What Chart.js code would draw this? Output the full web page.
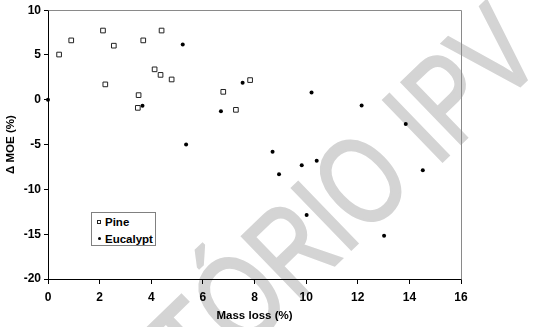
<!DOCTYPE html>
<html>
<head>
<meta charset="utf-8">
<script src="https://cdn.jsdelivr.net/npm/chart.js@4.4.1/dist/chart.umd.min.js"></script>
<style>
  html, body { margin: 0; padding: 0; background: #fff; }
  #wrap { position: relative; width: 536px; height: 327px; overflow: hidden; }
  #wm { position: absolute; left: 547px; top: 62px; width: 0; height: 0; z-index: 0;
        transform: rotate(-44deg) scaleY(1.3); transform-origin: 0 0; }
  #wm span { position: absolute; right: 0; bottom: -14px; white-space: nowrap;
        font-family: "Liberation Sans", Arial, sans-serif; font-size: 95px; line-height: 95px;
        color: #d4d4d4; -webkit-text-stroke: 2px #d4d4d4; }
  #c { position: absolute; left: 0; top: 0; z-index: 1; }
  #legend { position: absolute; left: 91px; top: 212px; width: 63px; height: 32px; z-index: 2;
        border: 1px solid #808080; background: #fff;
        font-family: "Liberation Sans", Arial, sans-serif; font-weight: bold; font-size: 11.5px; color: #000; }
  .row { position: absolute; left: 0; height: 14px; line-height: 14px; }
  .row .t { position: absolute; left: 13px; top: 0; white-space: nowrap; }
  .sq { position: absolute; left: 5px; top: 5px; width: 2px; height: 2px; border: 1px solid #222; background: #fff; }
  .dt { position: absolute; left: 6px; top: 5px; width: 3px; height: 3px; border-radius: 50%; background: #000; }
</style>
</head>
<body>
<div id="wrap">
  <div id="wm"><span id="wmtext"></span></div>
  <canvas id="c" width="536" height="327"></canvas>
  <div id="legend">
    <div class="row" style="top:2px"><div class="sq"></div><span class="t" id="lg0"></span></div>
    <div class="row" style="top:19px"><div class="dt"></div><span class="t" id="lg1"></span></div>
  </div>
</div>
<script>
// ---- data ----
const seriesNames = ["Pine", "Eucalypt"];
const pineX = [0.43, 0.90, 2.13, 2.22, 2.55, 3.51, 3.48, 3.69, 4.13, 4.36, 4.40, 4.79, 6.79, 7.28, 7.83];
const pineY = [5.05, 6.63, 7.73, 1.72, 6.04, 0.52, -0.90, 6.63, 3.40, 2.78, 7.73, 2.27, 0.89, -1.12, 2.20];
const eucX = [0.00, 3.66, 5.22, 6.70, 7.54, 10.21, 5.35, 8.70, 10.41, 8.95, 9.83, 10.02, 14.52, 13.02, 12.15, 13.86];
const eucY = [0.00, -0.66, 6.16, -1.27, 1.91, 0.81, -5.00, -5.80, -6.80, -8.30, -7.30, -12.87, -7.86, -15.17, -0.65, -2.70];
const xTicks = [0, 2, 4, 6, 8, 10, 12, 14, 16];
const yTicks = [-20, -15, -10, -5, 0, 5, 10];
const xTitle = "Mass loss (%)";
const yTitle = "\u0394 MOE (%)";
const watermark = "REPOSIT\u00d3RIO IPV";

document.getElementById('wmtext').textContent = watermark;
document.getElementById('lg0').textContent = seriesNames[0];
document.getElementById('lg1').textContent = seriesNames[1];

const FAM = '"Liberation Sans", Arial, sans-serif';
const tickFont = { family: FAM, size: 12, weight: 'bold' };
const titleFont = { family: FAM, size: 11.5, weight: 'bold' };

const frame = {
  id: 'frame',
  afterDraw(chart) {
    const a = chart.chartArea, c = chart.ctx;
    c.save();
    c.strokeStyle = '#8a8a8a';
    c.lineWidth = 1;
    c.beginPath();
    c.moveTo(Math.round(a.left) + 0.5, Math.round(a.top) + 0.5);
    c.lineTo(Math.round(a.right) + 0.5, Math.round(a.top) + 0.5);
    c.lineTo(Math.round(a.right) + 0.5, Math.round(a.bottom) + 0.5);
    c.stroke();
    c.restore();
  }
};

new Chart(document.getElementById('c'), {
  type: 'scatter',
  data: {
    datasets: [
      { label: seriesNames[0], data: pineX.map((x, i) => ({ x, y: pineY[i] })),
        pointStyle: 'rect', pointRadius: 3.3, pointBorderWidth: 1,
        borderColor: '#222', backgroundColor: '#fff', clip: false },
      { label: seriesNames[1], data: eucX.map((x, i) => ({ x, y: eucY[i] })),
        pointStyle: 'circle', pointRadius: 2, pointBorderWidth: 0,
        borderColor: '#000', backgroundColor: '#000', clip: false }
    ]
  },
  options: {
    responsive: false, animation: false, devicePixelRatio: 1,
    layout: { padding: { left: 0, right: 75, top: 6, bottom: 0 } },
    plugins: { legend: { display: false }, tooltip: { enabled: false } },
    scales: {
      x: {
        type: 'linear', min: xTicks[0], max: xTicks[xTicks.length - 1],
        afterBuildTicks(s) { s.ticks = xTicks.map(v => ({ value: v })); },
        afterFit(s) { s.height = 48; },
        ticks: { font: tickFont, color: '#000', padding: 6, maxRotation: 0 },
        grid: { drawOnChartArea: false, drawTicks: true, tickLength: 5, color: '#000' },
        border: { color: '#000', width: 1 },
        title: { display: true, text: xTitle, font: titleFont, color: '#000', padding: { top: 0, bottom: 4 } }
      },
      y: {
        type: 'linear', min: yTicks[0], max: yTicks[yTicks.length - 1],
        afterBuildTicks(s) { s.ticks = yTicks.map(v => ({ value: v })); },
        afterFit(s) { s.width = 48; },
        ticks: { font: tickFont, color: '#000', padding: 3 },
        grid: { drawOnChartArea: false, drawTicks: true, tickLength: 4, color: '#000' },
        border: { color: '#000', width: 1 },
        title: { display: true, text: yTitle, font: titleFont, color: '#000', padding: { top: 4, bottom: 2 } }
      }
    }
  },
  plugins: [frame]
});
</script>
</body>
</html>
